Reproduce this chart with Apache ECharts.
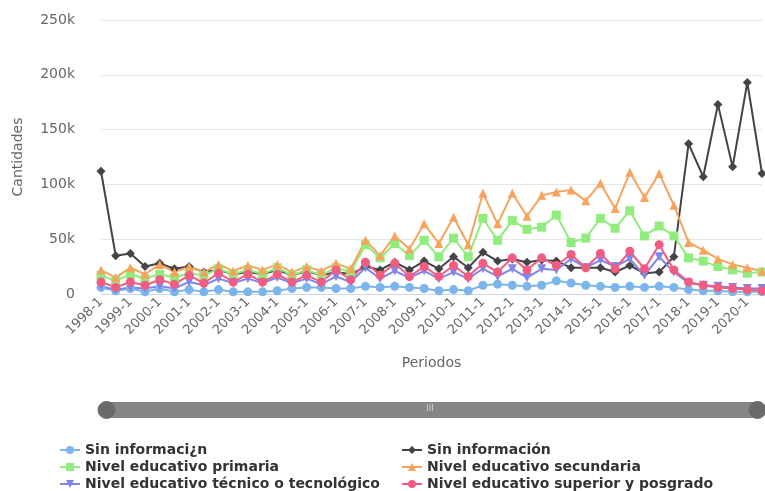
<!DOCTYPE html>
<html>
<head>
<meta charset="utf-8">
<script src="https://cdn.jsdelivr.net/npm/echarts@6/dist/echarts.min.js"></script>
<style>
html, body { margin: 0; padding: 0; background: #fff; }
#chart { width: 765px; height: 491px; }
</style>
</head>
<body>
<div id="chart"></div>
<script>
// periodos semestrales
var periodos = [
    '1998-1','1998-2','1999-1','1999-2','2000-1','2000-2','2001-1','2001-2',
    '2002-1','2002-2','2003-1','2003-2','2004-1','2004-2','2005-1','2005-2',
    '2006-1','2006-2','2007-1','2007-2','2008-1','2008-2','2009-1','2009-2',
    '2010-1','2010-2','2011-1','2011-2','2012-1','2012-2','2013-1','2013-2',
    '2014-1','2014-2','2015-1','2015-2','2016-1','2016-2','2017-1','2017-2',
    '2018-1','2018-2','2019-1','2019-2','2020-1','2020-2'
];

// cantidades (miles)
var sinInformacionA = [6,3,5,2,5,2,4,2,4,2,2,2,3,5,6,6,5,5,7,6,7,6,5,3,4,3,8,9,8,7,8,12,10,8,7,6,7,6,7,6,4,3,3,2,2,2];
var sinInformacionB = [112,35,37,25,28,23,25,20,22,18,20,18,22,17,21,17,20,18,25,22,29,22,30,23,34,24,38,30,32,29,31,30,24,24,24,20,26,19,20,34,137,107,173,116,193,110];
var primaria        = [17,12,18,14,18,15,19,17,23,18,22,18,24,17,22,17,24,20,45,33,46,35,49,34,51,34,69,49,67,59,61,72,47,51,69,60,76,53,62,53,33,30,25,22,19,20];
var secundaria      = [22,15,24,18,27,20,25,20,27,21,26,22,27,20,25,21,28,23,49,35,53,41,64,46,70,45,92,64,92,71,90,93,95,85,101,78,111,88,110,81,47,40,32,27,24,21];
var tecnico         = [7,4,6,5,7,5,11,8,14,10,14,10,15,10,14,9,16,11,24,14,21,15,21,14,20,14,23,16,23,15,23,22,32,24,31,25,32,17,34,20,10,8,7,6,5,5];
var superior        = [11,6,11,8,13,9,17,10,19,11,18,11,18,11,17,11,22,13,29,17,28,16,25,16,26,16,28,20,33,22,33,26,36,24,37,23,39,23,45,22,11,8,6,5,4,3];

var ticksY = [0, 50000, 100000, 150000, 200000, 250000];

var font = 'DejaVu Sans';

function k(arr) {
    return arr.map(function (v) { return v * 1000; });
}

function linea(name, data, color, symbol, size) {
    return {
        name: name,
        type: 'line',
        data: k(data),
        symbol: symbol,
        symbolSize: size,
        showAllSymbol: true,
        lineStyle: { width: 2, color: color },
        itemStyle: { color: color },
        emphasis: { disabled: true }
    };
}

// una leyenda por item, en dos columnas
function leyenda(name, left, top) {
    return {
        left: left,
        top: top,
        padding: 0,
        itemWidth: 20,
        itemHeight: 10,
        textStyle: { fontFamily: font, fontSize: 14, fontWeight: 'bold', color: '#333' },
        data: [name]
    };
}

var myChart = echarts.init(document.getElementById('chart'));

myChart.setOption({
    animation: false,
    textStyle: { fontFamily: font },
    grid: { left: 101, right: 3, top: 20, bottom: 197, containLabel: false },
    legend: [
        leyenda('Sin informaci¿n', 59, 443),
        leyenda('Sin información', 401, 443),
        leyenda('Nivel educativo primaria', 59, 460),
        leyenda('Nivel educativo secundaria', 401, 460),
        leyenda('Nivel educativo técnico o tecnológico', 59, 477),
        leyenda('Nivel educativo superior y posgrado', 401, 477)
    ],
    xAxis: {
        type: 'category',
        data: periodos,
        boundaryGap: false,
        name: 'Periodos',
        nameLocation: 'middle',
        nameGap: 62,
        nameTextStyle: { fontFamily: font, fontSize: 14, color: '#666' },
        axisLine: { lineStyle: { color: '#ccd6eb' } },
        axisTick: { show: false },
        axisLabel: { interval: 1, rotate: 45, fontSize: 13, color: '#666', margin: 6 },
        splitLine: { show: false }
    },
    yAxis: {
        type: 'value',
        min: ticksY[0],
        max: ticksY[ticksY.length - 1],
        interval: ticksY[1] - ticksY[0],
        name: 'Cantidades',
        nameLocation: 'middle',
        nameGap: 76,
        nameTextStyle: { fontFamily: font, fontSize: 14, color: '#666' },
        axisLine: { show: false },
        axisTick: { show: false },
        axisLabel: {
            fontSize: 14,
            color: '#666',
            margin: 26,
            formatter: function (v) { return v === 0 ? '0' : (v / 1000) + 'k'; }
        },
        splitLine: { lineStyle: { color: '#e6e6e6' } }
    },
    dataZoom: [{
        type: 'slider',
        xAxisIndex: 0,
        start: 0,
        end: 100,
        left: 104,
        right: 8,
        top: 402,
        height: 16,
        showDetail: false,
        showDataShadow: false,
        brushSelect: false,
        moveHandleSize: 0,
        zoomLock: true,
        backgroundColor: 'transparent',
        borderColor: 'transparent',
        fillerColor: '#858585',
        handleIcon: 'circle',
        handleSize: 17,
        handleStyle: { color: '#6a6a6a', borderColor: '#6a6a6a' }
    }],
    graphic: [{
        type: 'text',
        left: 426,
        top: 404,
        z: 200,
        style: { text: 'III', fill: '#d0d0d0', fontSize: 9, fontFamily: font }
    }],
    series: [
        linea('Sin informaci¿n', sinInformacionA, '#7cb5ec', 'circle', 9),
        linea('Sin información', sinInformacionB, '#434348', 'diamond', 9),
        linea('Nivel educativo primaria', primaria, '#90ed7d', 'rect', 9),
        linea('Nivel educativo secundaria', secundaria, '#f7a35c', 'triangle', 9),
        linea('Nivel educativo técnico o tecnológico', tecnico, '#8085e9', 'path://M0,0 L10,0 L5,10 Z', 9),
        linea('Nivel educativo superior y posgrado', superior, '#f15c80', 'circle', 9)
    ]
});
</script>
</body>
</html>
